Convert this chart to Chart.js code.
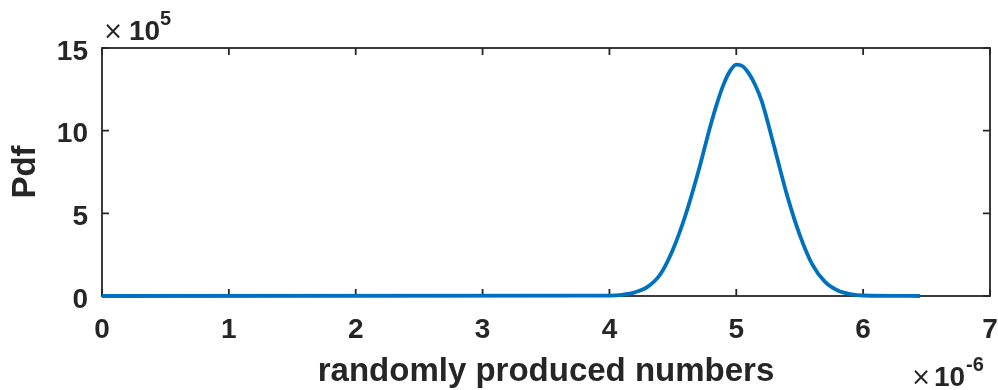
<!DOCTYPE html>
<html>
<head>
<meta charset="utf-8">
<script src="https://cdn.jsdelivr.net/npm/chart.js@4.4.1/dist/chart.umd.min.js"></script>
<style>
  html, body { margin: 0; padding: 0; background: #fff; }
  #wrap { width: 998px; height: 390px; }
</style>
</head>
<body>
<div id="wrap"><canvas id="grafico" width="998" height="390"></canvas></div>
<script>
// x in units of 1e-6, y in units of 1e5
const xValues = [0, 4.0, 4.1, 4.2, 4.3, 4.4, 4.5, 4.6, 4.7, 4.8, 4.85, 4.9, 4.95, 5.0, 5.05, 5.1, 5.15, 5.2, 5.3, 5.4, 5.5, 5.6, 5.7, 5.8, 5.9, 6.0, 6.45];
const pdfValues = [0, 0.02, 0.07, 0.22, 0.55, 1.3, 2.8, 4.9, 7.5, 10.4, 11.7, 12.8, 13.6, 14.0, 13.9, 13.45, 12.75, 11.8, 9.0, 6.1, 3.7, 1.9, 0.85, 0.33, 0.11, 0.03, 0];
const xTicks = [0, 1, 2, 3, 4, 5, 6, 7];
const yTicks = [0, 5, 10, 15];

const corEixo = '#262626';
const fonteTick = { family: 'Liberation Sans', size: 28, weight: 'bold' };
const fonteTitulo = { family: 'Liberation Sans', size: 33, weight: 'bold' };

// box around the axes with inward ticks, matlab style
const caixaEixos = {
  id: 'caixaEixos',
  beforeDatasetsDraw(chart) {
    const { ctx, chartArea: a, scales } = chart;
    ctx.save();
    ctx.strokeStyle = corEixo;
    ctx.lineWidth = 1.8;
    ctx.strokeRect(a.left, a.top, a.right - a.left, a.bottom - a.top);
    const tl = 7;
    ctx.beginPath();
    xTicks.forEach(v => {
      const px = scales.x.getPixelForValue(v);
      ctx.moveTo(px, a.bottom); ctx.lineTo(px, a.bottom - tl);
      ctx.moveTo(px, a.top); ctx.lineTo(px, a.top + tl);
    });
    yTicks.forEach(v => {
      const py = scales.y.getPixelForValue(v);
      ctx.moveTo(a.left, py); ctx.lineTo(a.left + tl, py);
      ctx.moveTo(a.right, py); ctx.lineTo(a.right - tl, py);
    });
    ctx.stroke();
    ctx.restore();
  },
  afterDraw(chart) {
    const { ctx, chartArea: a } = chart;
    ctx.save();
    ctx.fillStyle = corEixo;
    ctx.textBaseline = 'alphabetic';
    // y exponent
    ctx.font = '24px "DejaVu Sans"';
    ctx.fillText('\u00d7', a.left + 1, a.top - 9);
    ctx.font = 'bold 28px "Liberation Sans"';
    ctx.fillText('10', a.left + 27, a.top - 8);
    ctx.font = 'bold 20px "Liberation Sans"';
    ctx.fillText('5', a.left + 58, a.top - 23);
    // x exponent
    ctx.font = '24px "DejaVu Sans"';
    ctx.fillText('\u00d7', a.right - 79, 385);
    ctx.font = 'bold 28px "Liberation Sans"';
    ctx.fillText('10', a.right - 56, 386);
    ctx.font = 'bold 20px "Liberation Sans"';
    ctx.fillText('-6', a.right - 24, 371);
    ctx.restore();
  }
};

new Chart(document.getElementById('grafico'), {
  type: 'line',
  data: {
    datasets: [{
      data: xValues.map((x, i) => ({ x, y: pdfValues[i] })),
      borderColor: '#0072BD',
      borderWidth: 3.8,
      pointRadius: 0,
      cubicInterpolationMode: 'monotone',
      clip: 6
    }]
  },
  options: {
    responsive: false,
    animation: false,
    layout: { padding: { left: 0, right: 8, top: 48, bottom: 0 } },
    plugins: { legend: { display: false }, tooltip: { enabled: false } },
    scales: {
      x: {
        type: 'linear',
        min: 0, max: 7,
        afterFit: s => { s.height = 94; s.paddingLeft = 0; s.paddingRight = 0; },
        afterBuildTicks: s => { s.ticks = xTicks.map(v => ({ value: v })); },
        grid: { display: false, drawTicks: false },
        border: { display: false },
        ticks: { color: corEixo, font: fonteTick, padding: 17, maxRotation: 0, callback: v => v },
        title: { display: true, text: 'randomly produced numbers', color: corEixo, font: fonteTitulo, padding: { top: 0, bottom: -2 } }
      },
      y: {
        min: 0, max: 15,
        afterFit: s => { s.width = 102; s.paddingTop = 0; s.paddingBottom = 0; },
        afterBuildTicks: s => { s.ticks = yTicks.map(v => ({ value: v })); },
        grid: { display: false, drawTicks: false },
        border: { display: false },
        ticks: { color: corEixo, font: fonteTick, padding: 14, labelOffset: 4, callback: v => v },
        title: { display: true, text: 'Pdf', color: corEixo, font: fonteTitulo, padding: { top: 6, bottom: 0 } }
      }
    }
  },
  plugins: [caixaEixos]
});
</script>
</body>
</html>
